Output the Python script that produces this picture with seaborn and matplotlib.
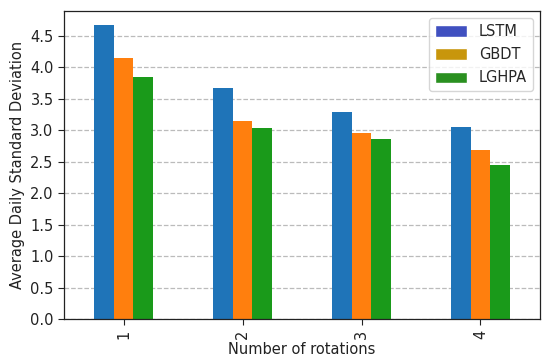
import matplotlib
matplotlib.use("Agg")
import matplotlib.pyplot as plt
from matplotlib.patches import Patch
import seaborn as sns
import pandas as pd

rotations = ["1", "2", "3", "4"]
models = ["LSTM", "GBDT", "LGHPA"]
lstm = [4.66, 3.67, 3.29, 3.05]
gbdt = [4.14, 3.15, 2.96, 2.68]
lghpa = [3.84, 3.03, 2.85, 2.45]

bar_colors = ["#1f74b8", "#ff7f0e", "#1a9a1a"]
legend_colors = ["#4050c0", "#c8960c", "#2a9020"]

df = pd.DataFrame({
    "rot": rotations * 3,
    "model": [m for m in models for _ in rotations],
    "val": lstm + gbdt + lghpa,
})

sns.set_style("white")
fig = plt.figure(figsize=(5.5, 3.63), dpi=100)
ax = fig.add_axes([0.1164, 0.1212, 0.8654, 0.8485])

sns.barplot(data=df, x="rot", y="val", hue="model", hue_order=models,
            order=rotations, palette=bar_colors, width=0.5, gap=0,
            saturation=1, ax=ax, legend=False, errorbar=None, linewidth=0)

ax.set_xlim(-0.5, 3.5)
ax.set_ylim(0, 4.89)
ax.set_yticks([0, 0.5, 1.0, 1.5, 2.0, 2.5, 3.0, 3.5, 4.0, 4.5])
ax.set_yticklabels(["0.0", "0.5", "1.0", "1.5", "2.0", "2.5", "3.0", "3.5", "4.0", "4.5"])
ax.tick_params(axis="x", labelrotation=90, length=4, width=0.8, colors="#222222", labelsize=10.5)
ax.tick_params(axis="y", length=4, width=0.8, colors="#222222", labelsize=10.5)
ax.tick_params(left=True, bottom=True)
ax.yaxis.grid(True, linestyle="--", color="#bbbbbb", linewidth=0.9)
ax.set_axisbelow(True)
for s in ax.spines.values():
    s.set_visible(True)
    s.set_color("#222222")
    s.set_linewidth(0.9)

ax.set_xlabel("Number of rotations", fontsize=10.5, color="#222222", labelpad=2)
ax.set_ylabel("Average Daily Standard Deviation", fontsize=10.5, color="#222222")

handles = [Patch(facecolor=c, label=m) for c, m in zip(legend_colors, models)]
ax.legend(handles=handles, loc="upper right", fontsize=10.5, frameon=True,
          fancybox=True, framealpha=0.8, edgecolor="#cccccc",
          handlelength=2.2, handleheight=0.8, labelspacing=0.55)

fig.savefig("out.png", dpi=100)
